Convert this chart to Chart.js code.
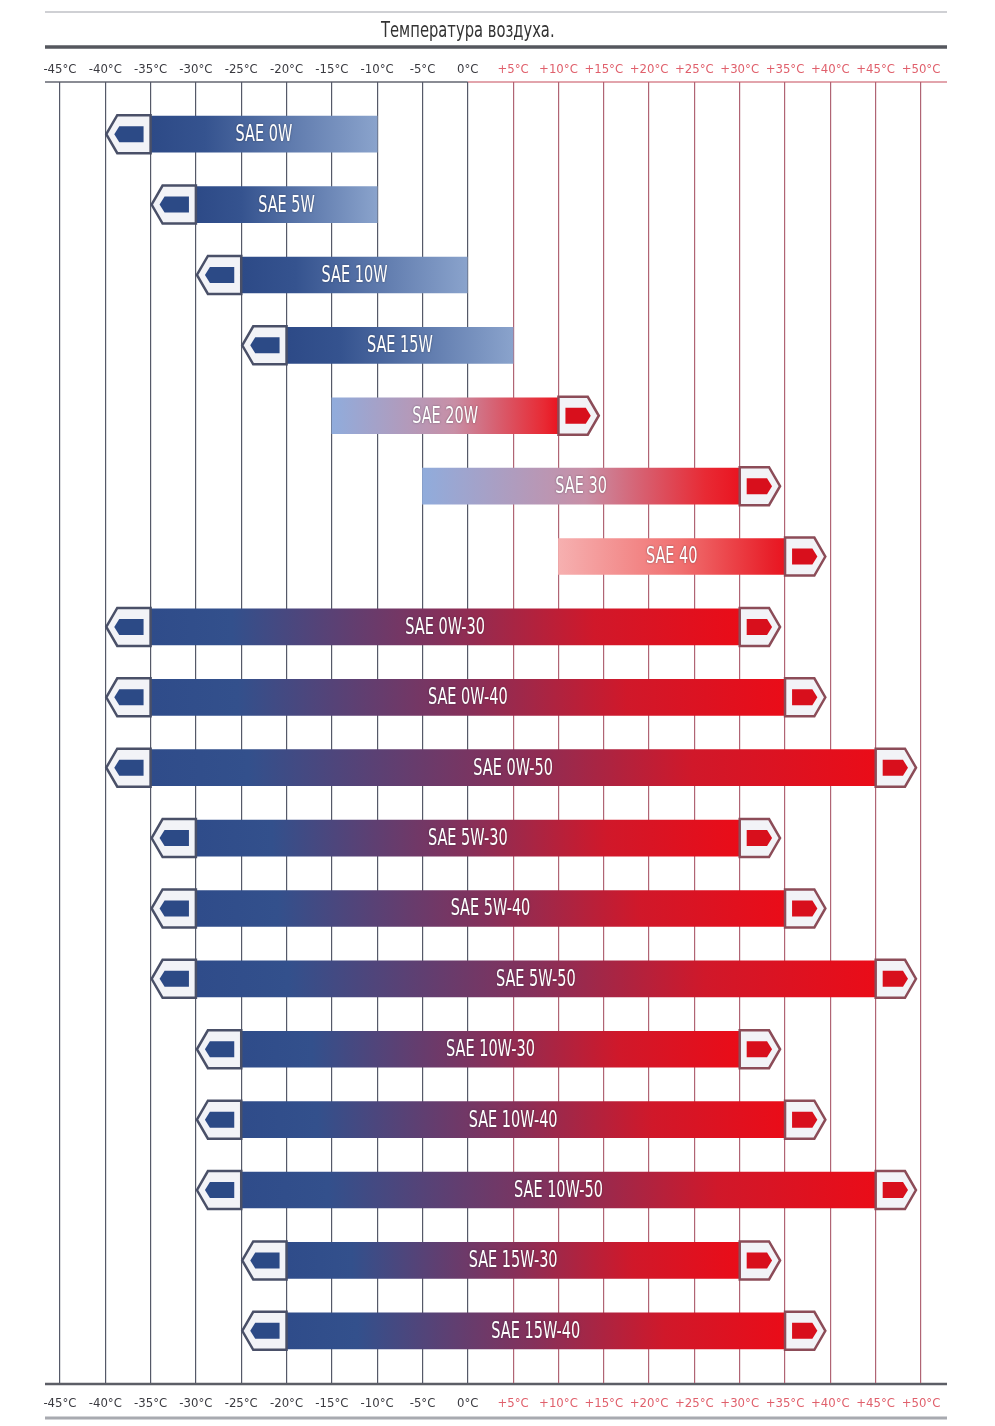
<!DOCTYPE html>
<html>
<head>
<meta charset="utf-8">
<script src="https://cdn.jsdelivr.net/npm/chart.js@4.4.1/dist/chart.umd.min.js"></script>
<style>
  body { margin: 0; background: #fff; }
  #wrap { width: 995px; height: 1426px; }
</style>
</head>
<body>
<div id="wrap"><canvas id="oilchart"></canvas></div>
<script>
// Вязкость масла по SAE и диапазон температур воздуха
const categories = ['SAE 0W', 'SAE 5W', 'SAE 10W', 'SAE 15W', 'SAE 20W', 'SAE 30', 'SAE 40',
  'SAE 0W-30', 'SAE 0W-40', 'SAE 0W-50', 'SAE 5W-30', 'SAE 5W-40', 'SAE 5W-50',
  'SAE 10W-30', 'SAE 10W-40', 'SAE 10W-50', 'SAE 15W-30', 'SAE 15W-40'];
const lowTemps = [-40, -35, -30, -25, -15, -5, 10, -40, -40, -40, -35, -35, -35, -30, -30, -30, -25, -25];
const highTemps = [-10, -10, 0, 5, 15, 35, 40, 35, 40, 50, 35, 40, 50, 35, 40, 50, 35, 40];
const gradeTypes = ['winter', 'winter', 'winter', 'winter', 'summer', 'summer', 'summer',
  'multi', 'multi', 'multi', 'multi', 'multi', 'multi', 'multi', 'multi', 'multi', 'multi', 'multi'];
const tickValues = [-45, -40, -35, -30, -25, -20, -15, -10, -5, 0, 5, 10, 15, 20, 25, 30, 35, 40, 45, 50];
const tickLabels = ['-45°C', '-40°C', '-35°C', '-30°C', '-25°C', '-20°C', '-15°C', '-10°C', '-5°C', '0°C',
  '+5°C', '+10°C', '+15°C', '+20°C', '+25°C', '+30°C', '+35°C', '+40°C', '+45°C', '+50°C'];
const chartTitle = 'Температура воздуха.';

const NARROW = "'Liberation Sans Narrow', 'DejaVu Sans Condensed', sans-serif";
const CAP = 5; // ширина наконечника в градусах
const clear = 'rgba(255,255,255,0)';

function hasLeftCap(i) { return gradeTypes[i] !== 'summer'; }
function hasRightCap(i) { return gradeTypes[i] !== 'winter'; }

function barFill(c) {
  const chart = c.chart;
  const xs = chart.scales.x;
  if (!chart.chartArea || !xs) return '#2d4a87';
  const i = c.dataIndex;
  const x0 = xs.getPixelForValue(lowTemps[i]);
  const x1 = xs.getPixelForValue(highTemps[i]);
  const f = (xs.getPixelForValue(lowTemps[i] + CAP) - x0) / (x1 - x0);
  const g = chart.ctx.createLinearGradient(x0, 0, x1, 0);
  const t = gradeTypes[i];
  if (t === 'winter') {
    g.addColorStop(0, clear);
    g.addColorStop(f, clear);
    g.addColorStop(f, '#2d4a87');
    g.addColorStop(f + 0.2, '#35538f');
    g.addColorStop(1, '#8aa3cc');
  } else if (t === 'summer') {
    const stops = lowTemps[i] >= 10
      ? ['#f6b0b0', '#f07070', '#e8202a']
      : ['#90acdc', '#c88fa6', '#e82a34'];
    g.addColorStop(0, stops[0]);
    g.addColorStop(0.45, stops[1]);
    g.addColorStop(0.78, stops[2]);
    g.addColorStop(1 - f, '#ea1420');
    g.addColorStop(1 - f, clear);
    g.addColorStop(1, clear);
  } else {
    g.addColorStop(0, clear);
    g.addColorStop(f, clear);
    g.addColorStop(f, '#2f4c8a');
    g.addColorStop(f + 0.12, '#33508c');
    g.addColorStop(0.5, '#86305a');
    g.addColorStop(0.72, '#d0182a');
    g.addColorStop(1 - f, '#ea0c18');
    g.addColorStop(1 - f, clear);
    g.addColorStop(1, clear);
  }
  return g;
}

function capPath(ctx, tip, back, yc, h, p) {
  const s = Math.sign(back - tip);
  ctx.beginPath();
  ctx.moveTo(tip, yc);
  ctx.lineTo(tip + s * p, yc - h);
  ctx.lineTo(back, yc - h);
  ctx.lineTo(back, yc + h);
  ctx.lineTo(tip + s * p, yc + h);
  ctx.closePath();
}

function drawCap(ctx, tip, back, yc, left) {
  const s = Math.sign(back - tip);
  capPath(ctx, tip, back, yc, 19, 11);
  ctx.fillStyle = '#f2f3f7';
  ctx.fill();
  ctx.lineWidth = 2.5;
  ctx.strokeStyle = left ? '#4a5068' : '#8c4c58';
  ctx.stroke();
  capPath(ctx, tip + s * 8, back - s * 7, yc, 8, 5);
  ctx.fillStyle = left ? '#2c4a86' : '#d80f1c';
  ctx.fill();
}

function narrowText(ctx, text, x, y, size, sx, color, shadow) {
  ctx.save();
  ctx.translate(x, y);
  ctx.scale(sx, 1);
  ctx.font = size + 'px ' + NARROW;
  ctx.textAlign = 'center';
  ctx.textBaseline = 'middle';
  if (shadow) {
    ctx.shadowColor = shadow;
    ctx.shadowBlur = 2;
  }
  ctx.fillStyle = color;
  ctx.fillText(text, 0, 0);
  ctx.restore();
}

const decor = {
  id: 'decor',
  beforeDraw(chart) {
    const ctx = chart.ctx;
    const a = chart.chartArea;
    const xs = chart.scales.x;
    const zero = xs.getPixelForValue(0);
    ctx.save();
    ctx.fillStyle = '#fff';
    ctx.fillRect(0, 0, chart.width, chart.height);
    const hline = (y, x0, x1, w, col) => {
      ctx.beginPath(); ctx.moveTo(x0, y); ctx.lineTo(x1, y);
      ctx.lineWidth = w; ctx.strokeStyle = col; ctx.stroke();
    };
    hline(12, a.left, a.right, 2, '#cfd0d4');
    hline(47, a.left, a.right, 3.5, '#55575e');
    hline(82, a.left, zero, 2, '#8a8c94');
    hline(82, zero, a.right, 2, '#e2a4ac');
    hline(1384, a.left, a.right, 2.5, '#5c5e66');
    hline(1418, a.left, a.right, 3, '#a8aab0');
    ctx.restore();
    narrowText(ctx, chartTitle, zero, 32, 21, 0.78, '#333', null);
  },
  afterDatasetsDraw(chart) {
    const ctx = chart.ctx;
    const xs = chart.scales.x;
    const meta = chart.getDatasetMeta(0);
    ctx.save();
    meta.data.forEach((bar, i) => {
      const x0 = xs.getPixelForValue(lowTemps[i]);
      const x1 = xs.getPixelForValue(highTemps[i]);
      const capW = xs.getPixelForValue(lowTemps[i] + CAP) - x0;
      let bl = x0, br = x1;
      if (hasLeftCap(i)) { drawCap(ctx, x0 + 1, x0 + capW, bar.y, true); bl += capW; }
      if (hasRightCap(i)) { drawCap(ctx, x1 - 5, x1 - capW, bar.y, false); br -= capW; }
      narrowText(ctx, categories[i], (bl + br) / 2, bar.y + 1, 23, 0.7, '#fff', 'rgba(40,40,50,0.55)');
    });
    ctx.restore();
  }
};

const axisTicks = (pad) => ({
  autoSkip: false,
  maxRotation: 0,
  padding: pad,
  font: { family: NARROW, size: 13 },
  color: c => (c.tick && c.tick.value > 0 ? '#e0606c' : '#3a3a40'),
  callback: v => tickLabels[tickValues.indexOf(v)]
});
const gridColor = c => (c.tick && c.tick.value > 0 ? '#b06474' : '#555968');
const setTicks = s => { s.ticks = tickValues.map(v => ({ value: v })); };

new Chart(document.getElementById('oilchart'), {
  type: 'bar',
  data: {
    labels: categories,
    datasets: [{
      data: categories.map((c, i) => [lowTemps[i], highTemps[i]]),
      backgroundColor: barFill,
      borderWidth: 0,
      borderSkipped: false,
      barThickness: 36
    }]
  },
  options: {
    indexAxis: 'y',
    responsive: true,
    maintainAspectRatio: false,
    animation: false,
    layout: { padding: { left: 45, right: 48, top: 0, bottom: 0 } },
    plugins: {
      legend: { display: false },
      tooltip: { enabled: false }
    },
    scales: {
      x: {
        type: 'linear',
        position: 'bottom',
        min: -46.65,
        max: 52.87,
        afterBuildTicks: setTicks,
        afterFit: s => { s.height = 60; },
        ticks: axisTicks(13),
        grid: { color: gridColor, lineWidth: 1.2, tickLength: 17, drawOnChartArea: true },
        border: { display: false }
      },
      x2: {
        type: 'linear',
        position: 'top',
        min: -46.65,
        max: 52.87,
        afterBuildTicks: setTicks,
        afterFit: s => { s.height = 99; },
        ticks: axisTicks(5),
        grid: { color: gridColor, lineWidth: 1.2, tickLength: 17, drawOnChartArea: false },
        border: { display: false }
      },
      y: {
        type: 'category',
        display: false
      }
    }
  },
  plugins: [decor]
});
</script>
</body>
</html>
